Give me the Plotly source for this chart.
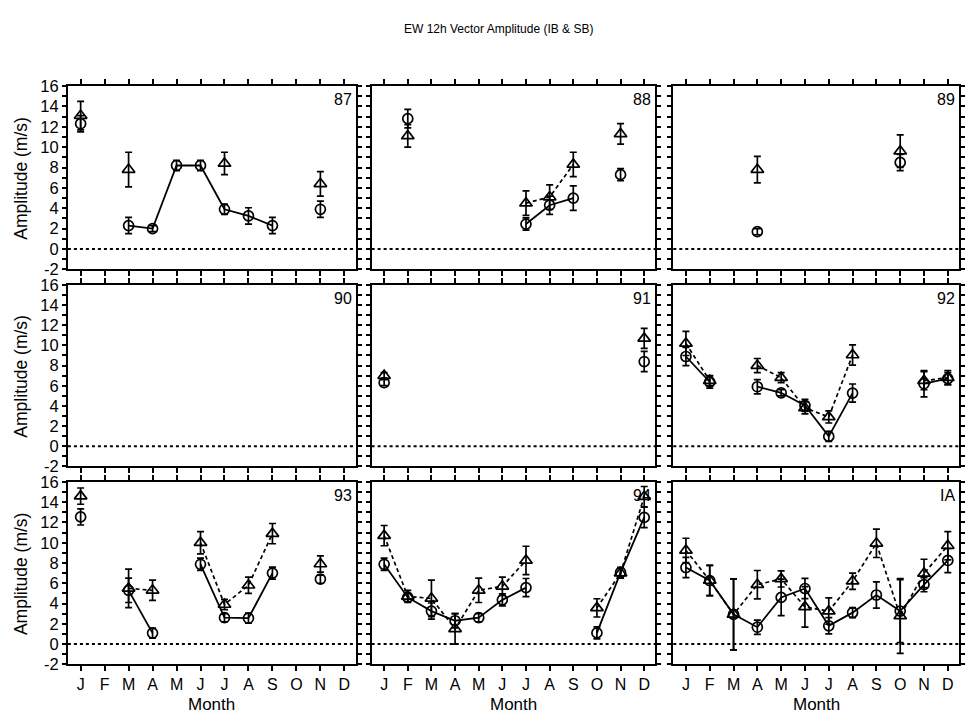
import plotly.graph_objects as go

W, H = 965, 724

months = list(range(1, 13))
month_labels = ["J", "F", "M", "A", "M", "J", "J", "A", "S", "O", "N", "D"]
panel_names = ["87", "88", "89", "90", "91", "92", "93", "94", "IA"]
N = None

# circles (solid line) and triangles (dashed line): values and error half-widths (m/s)
p87_circ = [12.3, N, 2.3, 2.0, 8.2, 8.2, 3.9, 3.25, 2.3, N, 3.9, N]
p87_circ_err = [0.8, N, 0.8, 0.3, 0.5, 0.5, 0.5, 0.8, 0.8, N, 0.8, N]
p87_tri = [13.1, N, 7.8, N, N, N, 8.4, N, N, N, 6.4, N]
p87_tri_err = [1.4, N, 1.7, N, N, N, 1.1, N, N, N, 1.2, N]

p88_circ = [N, 12.8, N, N, N, N, 2.45, 4.3, 5.0, N, 7.3, N]
p88_circ_err = [N, 0.9, N, N, N, N, 0.6, 0.9, 1.2, N, 0.6, N]
p88_tri = [N, 11.1, N, N, N, N, 4.5, 5.1, 8.3, N, 11.3, N]
p88_tri_err = [N, 1.1, N, N, N, N, 1.2, 1.2, 1.2, N, 1.0, N]

p89_circ = [N, N, N, 1.7, N, N, N, N, N, 8.5, N, N]
p89_circ_err = [N, N, N, 0.3, N, N, N, N, N, 0.8, N, N]
p89_tri = [N, N, N, 7.8, N, N, N, N, N, 9.6, N, N]
p89_tri_err = [N, N, N, 1.3, N, N, N, N, N, 1.6, N, N]

p90_circ = [N] * 12
p90_circ_err = [N] * 12
p90_tri = [N] * 12
p90_tri_err = [N] * 12

p91_circ = [6.3, N, N, N, N, N, N, N, N, N, N, 8.4]
p91_circ_err = [0.3, N, N, N, N, N, N, N, N, N, N, 1.0]
p91_tri = [7.0, N, N, N, N, N, N, N, N, N, N, 10.7]
p91_tri_err = [0.3, N, N, N, N, N, N, N, N, N, N, 1.0]

p92_circ = [8.9, 6.37, N, 5.9, 5.3, 4.04, 0.97, 5.27, N, N, 6.2, 6.7]
p92_circ_err = [0.9, 0.6, N, 0.7, 0.3, 0.6, 0.5, 0.9, N, N, 1.3, 0.6]
p92_tri = [10.2, 6.5, N, 8.0, 6.8, 3.8, 2.9, 9.05, N, N, 6.5, 6.8]
p92_tri_err = [1.2, 0.5, N, 0.7, 0.5, 0.6, 0.6, 1.0, N, N, 0.9, 0.7]

p93_circ = [12.55, N, 5.3, 1.08, N, 7.87, 2.6, 2.55, 7.0, N, 6.4, N]
p93_circ_err = [0.8, N, 1.2, 0.5, N, 0.6, 0.4, 0.5, 0.6, N, 0.4, N]
p93_tri = [14.6, N, 5.5, 5.3, N, 10.0, 3.9, 5.8, 10.9, N, 7.9, N]
p93_tri_err = [0.8, N, 1.9, 1.0, N, 1.1, 0.5, 0.8, 1.0, N, 0.8, N]

p94_circ = [7.87, 4.6, 3.25, 2.3, 2.6, 4.36, 5.57, N, N, 1.1, 7.07, 12.5]
p94_circ_err = [0.6, 0.4, 0.8, 0.7, 0.4, 0.6, 0.9, N, N, 0.6, 0.5, 1.0]
p94_tri = [10.7, 4.7, 4.5, 1.5, 5.3, 5.7, 8.25, N, N, 3.57, 7.0, 14.55]
p94_tri_err = [1.0, 0.6, 1.8, 1.5, 1.2, 0.9, 1.4, N, N, 0.9, 0.5, 1.0]

pIA_circ = [7.55, 6.27, 2.93, 1.66, 4.6, 5.48, 1.8, 3.1, 4.84, 3.25, 5.86, 8.25]
pIA_circ_err = [1.0, 1.5, 3.5, 0.7, 1.8, 1.0, 0.8, 0.5, 1.3, 3.1, 0.7, 1.2]
pIA_tri = [9.24, 6.27, 2.93, 5.86, 6.43, 3.66, 3.25, 6.2, 9.94, 2.77, 6.97, 9.7]
pIA_tri_err = [1.2, 1.5, 3.5, 1.4, 0.8, 2.0, 1.3, 0.8, 1.4, 3.7, 1.4, 1.4]

panel_data = [
    (p87_circ, p87_circ_err, p87_tri, p87_tri_err),
    (p88_circ, p88_circ_err, p88_tri, p88_tri_err),
    (p89_circ, p89_circ_err, p89_tri, p89_tri_err),
    (p90_circ, p90_circ_err, p90_tri, p90_tri_err),
    (p91_circ, p91_circ_err, p91_tri, p91_tri_err),
    (p92_circ, p92_circ_err, p92_tri, p92_tri_err),
    (p93_circ, p93_circ_err, p93_tri, p93_tri_err),
    (p94_circ, p94_circ_err, p94_tri, p94_tri_err),
    (pIA_circ, pIA_circ_err, pIA_tri, pIA_tri_err),
]

y_ticks = list(range(-2, 17))
y_ticktext = [str(v) if v % 2 == 0 else "" for v in y_ticks]

col_px = [(68, 356), (372, 656), (674, 960)]
row_px = [(79, 267), (283, 469), (485, 672)]

FONT = "Liberation Sans, Arial, sans-serif"

fig = go.Figure()
layout = dict(
    width=W, height=H,
    margin=dict(l=0, r=0, t=0, b=0),
    paper_bgcolor="white", plot_bgcolor="white",
    showlegend=False,
    font=dict(family=FONT, color="black"),
)
annotations = []
shapes = []

for i, name in enumerate(panel_names):
    r, c = divmod(i, 3)
    n = i + 1
    xa = "x" if n == 1 else f"x{n}"
    ya = "y" if n == 1 else f"y{n}"
    xkey = "xaxis" if n == 1 else f"xaxis{n}"
    ykey = "yaxis" if n == 1 else f"yaxis{n}"
    x0, x1 = col_px[c]
    y0, y1 = row_px[r]
    layout[xkey] = dict(
        domain=[x0 / W, x1 / W], anchor=ya, range=[0.47, 12.47],
        tickvals=months, ticktext=month_labels, showticklabels=(r == 2),
        ticks="outside", ticklen=5, tickwidth=1.6, tickcolor="black",
        showline=True, linewidth=2, linecolor="black", mirror="ticks",
        showgrid=False, zeroline=False,
        tickfont=dict(size=16, family=FONT),
    )
    layout[ykey] = dict(
        domain=[1 - y1 / H, 1 - y0 / H], anchor=xa, range=[-2, 16],
        tickvals=y_ticks, ticktext=y_ticktext, showticklabels=(c == 0),
        ticks="outside", ticklen=4, tickwidth=1.6, tickcolor="black",
        showline=True, linewidth=2, linecolor="black", mirror="ticks",
        showgrid=False, zeroline=False,
        tickfont=dict(size=16.5, family=FONT),
    )
    circ, circ_err, tri, tri_err = panel_data[i]
    fig.add_trace(go.Scatter(
        x=months, y=tri, xaxis=xa, yaxis=ya, mode="lines+markers",
        line=dict(color="black", width=1.7, dash="4px,3px"),
        marker=dict(symbol="triangle-up-open", size=11, color="black",
                    line=dict(width=1.7, color="black")),
        error_y=dict(type="data", array=tri_err, width=3.5, thickness=1.7, color="black"),
        connectgaps=False, hoverinfo="skip",
    ))
    fig.add_trace(go.Scatter(
        x=months, y=circ, xaxis=xa, yaxis=ya, mode="lines+markers",
        line=dict(color="black", width=1.8),
        marker=dict(symbol="circle-open", size=10, color="black",
                    line=dict(width=1.7, color="black")),
        error_y=dict(type="data", array=circ_err, width=3.5, thickness=1.7, color="black"),
        connectgaps=False, hoverinfo="skip",
    ))
    shapes.append(dict(
        type="line", xref=f"{xa} domain", yref=ya, x0=0, x1=1, y0=0, y1=0,
        line=dict(color="black", width=2, dash="dot"),
    ))
    annotations.append(dict(
        text=name, xref=f"{xa} domain", yref=f"{ya} domain", x=1, y=1,
        xanchor="right", yanchor="top", xshift=-2, yshift=-3, showarrow=False,
        font=dict(size=16, family=FONT),
    ))

for r in range(3):
    y0, y1 = row_px[r]
    annotations.append(dict(
        text="Amplitude (m/s)", xref="paper", yref="paper",
        x=21 / W, y=1 - (y0 + y1) / 2 / H, textangle=-90,
        xanchor="center", yanchor="middle", showarrow=False,
        font=dict(size=17.5, family=FONT),
    ))
for c in range(3):
    x0, x1 = col_px[c]
    annotations.append(dict(
        text="Month", xref="paper", yref="paper",
        x=(x0 + x1) / 2 / W, y=1 - 713 / H,
        xanchor="center", yanchor="middle", showarrow=False,
        font=dict(size=17, family=FONT),
    ))

annotations.append(dict(
    text="EW 12h Vector Amplitude (IB & SB)", xref="paper", yref="paper",
    x=499 / W, y=1 - 20 / H, xanchor="center", yanchor="middle", showarrow=False,
    font=dict(size=12, family=FONT),
))

layout["annotations"] = annotations
layout["shapes"] = shapes
fig.update_layout(**layout)
fig.write_html("out.html")
